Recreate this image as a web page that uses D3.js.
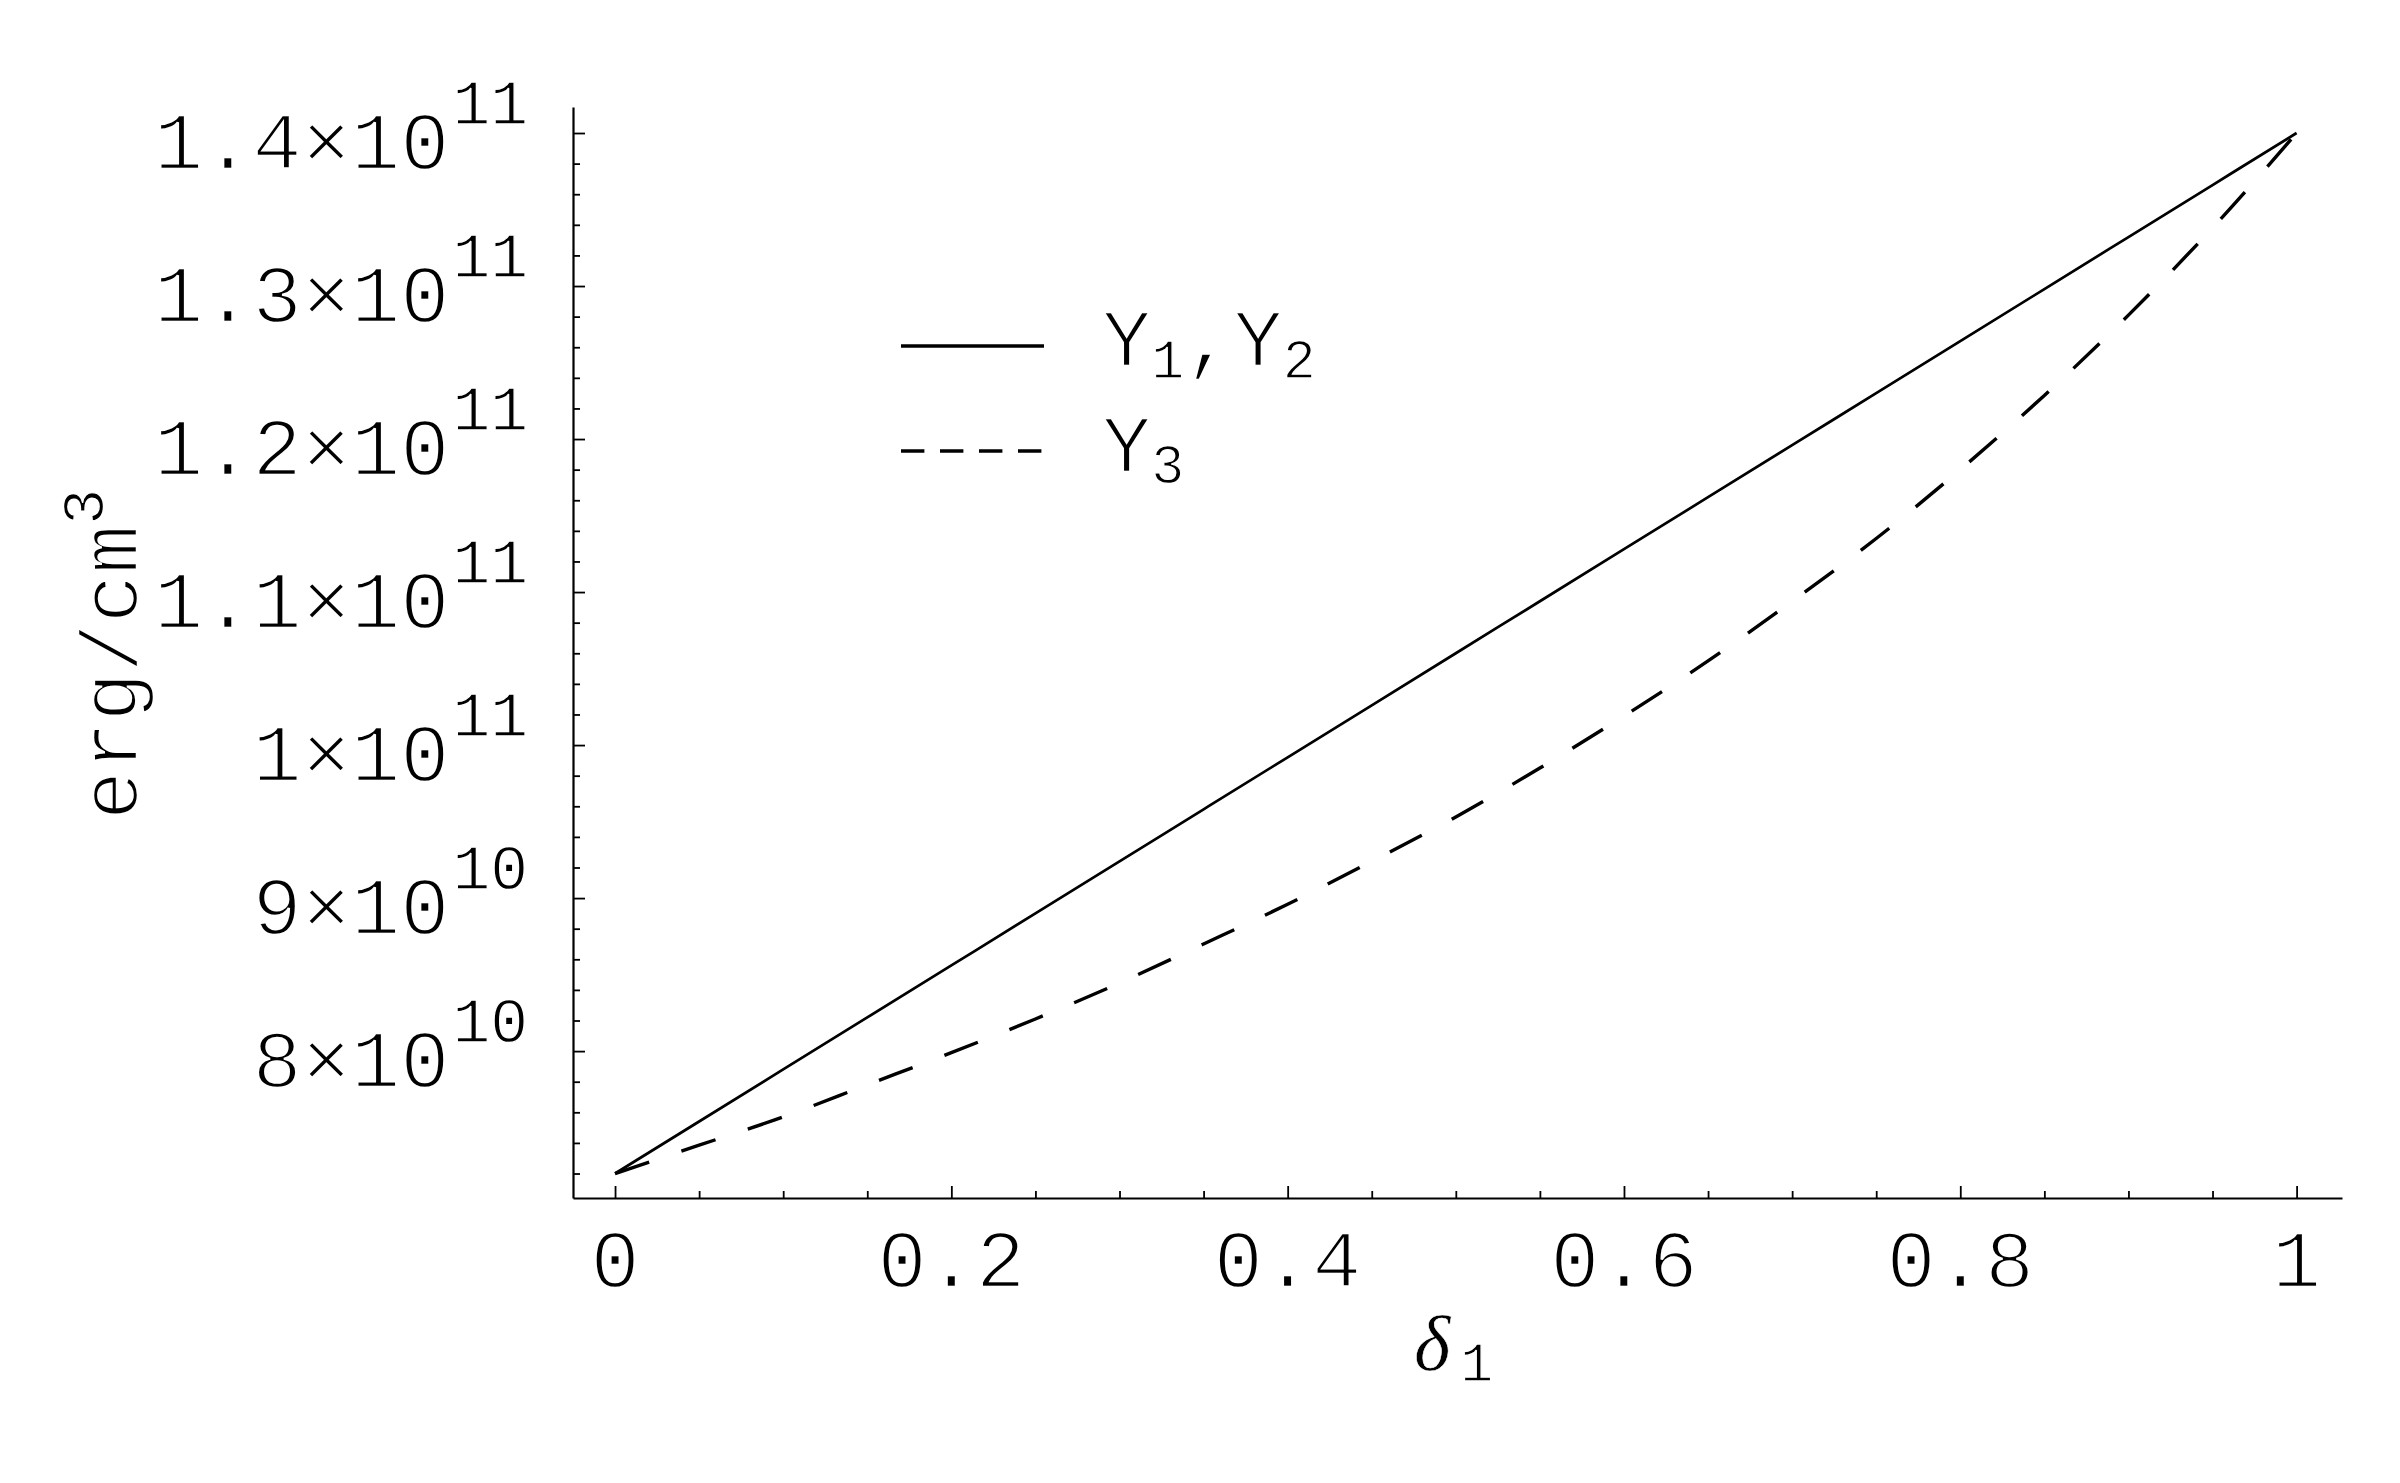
<!DOCTYPE html>
<html>
<head>
<meta charset="utf-8">
<script src="https://cdn.jsdelivr.net/npm/d3@7"></script>
<style>
  body { margin: 0; background: #fff; }
  text { font-family: "Liberation Mono", "Courier New", monospace; fill: #000;
         stroke: #fff; stroke-width: 2.4px; paint-order: fill; }
  tspan.small { stroke-width: 1.3px; }
</style>
</head>
<body>
<div id="chart"></div>
<script>
const width = 2400;
const height = 1483;

// delta_1 values and energy densities (erg/cm^3)
const delta = [0, 0.05, 0.1, 0.15, 0.2, 0.25, 0.3, 0.35, 0.4, 0.45, 0.5,
               0.55, 0.6, 0.65, 0.7, 0.75, 0.8, 0.85, 0.9, 0.95, 1];
const y12 = [7.20e10, 7.54e10, 7.88e10, 8.22e10, 8.56e10, 8.90e10, 9.24e10,
             9.58e10, 9.92e10, 10.26e10, 10.60e10, 10.94e10, 11.28e10, 11.62e10,
             11.96e10, 12.30e10, 12.64e10, 12.98e10, 13.32e10, 13.66e10, 14.00e10];
const y3 = [7.20e10, 7.385e10, 7.57e10, 7.78e10, 7.99e10, 8.21e10, 8.445e10,
            8.70e10, 8.96e10, 9.24e10, 9.53e10, 9.85e10, 10.19e10, 10.55e10,
            10.94e10, 11.35e10, 11.80e10, 12.285e10, 12.81e10, 13.38e10, 14.00e10];

const xTicks = [0, 0.2, 0.4, 0.6, 0.8, 1];
const xTickLabels = ["0", "0.2", "0.4", "0.6", "0.8", "1"];
const xMinor = [0.05, 0.1, 0.15, 0.25, 0.3, 0.35, 0.45, 0.5, 0.55, 0.65, 0.7, 0.75, 0.85, 0.9, 0.95];

const yTicks = [8e10, 9e10, 10e10, 11e10, 12e10, 13e10, 14e10];
const yTickMant = ["8", "9", "1", "1.1", "1.2", "1.3", "1.4"];
const yTickExp = ["10", "10", "11", "11", "11", "11", "11"];
const yMinor = [7.2e10, 7.4e10, 7.6e10, 7.8e10, 8.2e10, 8.4e10, 8.6e10, 8.8e10,
                9.2e10, 9.4e10, 9.6e10, 9.8e10, 10.2e10, 10.4e10, 10.6e10, 10.8e10,
                11.2e10, 11.4e10, 11.6e10, 11.8e10, 12.2e10, 12.4e10, 12.6e10, 12.8e10,
                13.2e10, 13.4e10, 13.6e10, 13.8e10];

const svg = d3.select("#chart")
    .append("svg")
    .attr("width", width)
    .attr("height", height)
    .attr("viewBox", [0, 0, width, height]);

svg.append("rect").attr("width", width).attr("height", height).attr("fill", "#fff");

const x = d3.scaleLinear().domain([-0.025, 1.027]).range([573, 2342]);
const y = d3.scaleLinear().domain([7.04e10, 14.17e10]).range([1198, 107]);

// axes: ticks point into the plot
const gX = svg.append("g").attr("transform", `translate(0,${y.range()[0]})`);
gX.call(d3.axisBottom(x).tickValues(xTicks).tickSize(-12).tickSizeOuter(0).tickFormat(""));
const gXm = svg.append("g").attr("transform", `translate(0,${y.range()[0]})`);
gXm.call(d3.axisBottom(x).tickValues(xMinor).tickSize(-7).tickSizeOuter(0).tickFormat(""));
gXm.select(".domain").remove();

const gY = svg.append("g").attr("transform", `translate(${x.range()[0]},0)`);
gY.call(d3.axisLeft(y).tickValues(yTicks).tickSize(-12).tickSizeOuter(0).tickFormat(""));
const gYm = svg.append("g").attr("transform", `translate(${x.range()[0]},0)`);
gYm.call(d3.axisLeft(y).tickValues(yMinor).tickSize(-7).tickSizeOuter(0).tickFormat(""));
gYm.select(".domain").remove();

svg.selectAll(".domain").attr("stroke", "#000").attr("stroke-width", 2.2);
svg.selectAll(".tick line").attr("stroke", "#000").attr("stroke-width", 1.8);

// x tick labels
svg.append("g").selectAll("text")
    .data(xTicks)
    .join("text")
    .attr("x", d => x(d))
    .attr("y", 1287)
    .attr("text-anchor", "middle")
    .attr("font-size", 82)
    .text((d, i) => xTickLabels[i]);

// y tick labels  m×10^e
const yl = svg.append("g").selectAll("text")
    .data(yTicks)
    .join("text")
    .attr("x", 528)
    .attr("y", d => y(d) + 35.5)
    .attr("text-anchor", "end")
    .attr("font-size", 82);
yl.append("tspan").text((d, i) => yTickMant[i] + "\u00d7");
yl.append("tspan").text("10");
yl.append("tspan").attr("class", "small").attr("dx", 3).attr("dy", -45).attr("font-size", 63).text((d, i) => yTickExp[i]);

// axis titles
const yt = svg.append("text")
    .attr("transform", "translate(137,820) rotate(-90)")
    .attr("font-size", 82);
yt.append("tspan").text("erg/cm");
yt.append("tspan").attr("class", "small").attr("dy", -34).attr("font-size", 60).text("3");

const xt = svg.append("text")
    .attr("x", 1414)
    .attr("y", 1370)
    .attr("font-size", 82);
xt.append("tspan")
    .attr("class", "small")
    .style("font-family", "'Liberation Serif', 'DejaVu Serif', serif")
    .style("font-style", "italic")
    .style("stroke-width", "0.6px")
    .attr("font-size", 78)
    .text("\u03b4");
xt.append("tspan").attr("class", "small").attr("dx", 10).attr("dy", 11).attr("font-size", 55).text("1");

// curves
const line = d3.line()
    .x(d => x(d[0]))
    .y(d => y(d[1]))
    .curve(d3.curveMonotoneX);

svg.append("path")
    .datum(d3.zip(delta, y12))
    .attr("fill", "none")
    .attr("stroke", "#000")
    .attr("stroke-width", 2.7)
    .attr("d", line);

svg.append("path")
    .datum(d3.zip(delta, y3))
    .attr("fill", "none")
    .attr("stroke", "#000")
    .attr("stroke-width", 3.4)
    .attr("stroke-dasharray", "36,34")
    .attr("d", line);

// legend
const legend = svg.append("g");
legend.append("line")
    .attr("x1", 901).attr("x2", 1044).attr("y1", 346).attr("y2", 346)
    .attr("stroke", "#000").attr("stroke-width", 3.3);
legend.append("line")
    .attr("x1", 901).attr("x2", 1042).attr("y1", 451).attr("y2", 451)
    .attr("stroke", "#000").attr("stroke-width", 3.3)
    .attr("stroke-dasharray", "23.4,15.6");

const l1 = legend.append("text").attr("x", 1102).attr("y", 366).attr("font-size", 82);
l1.append("tspan").text("Y");
l1.append("tspan").attr("class", "small").attr("dy", 12).attr("font-size", 55).text("1");
l1.append("tspan").attr("dy", -12).text(",Y");
l1.append("tspan").attr("class", "small").attr("dy", 12).attr("font-size", 55).text("2");

const l2 = legend.append("text").attr("x", 1102).attr("y", 472).attr("font-size", 82);
l2.append("tspan").text("Y");
l2.append("tspan").attr("class", "small").attr("dy", 11).attr("font-size", 55).text("3");
</script>
</body>
</html>
